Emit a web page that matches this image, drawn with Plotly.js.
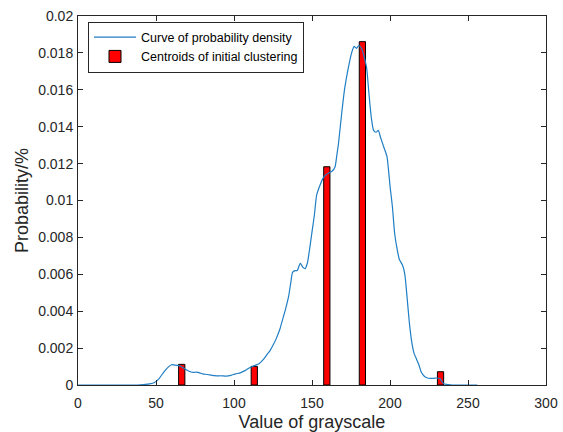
<!DOCTYPE html>
<html>
<head>
<meta charset="utf-8">
<script src="https://cdn.plot.ly/plotly-3.0.1.min.js"></script>
<style>html,body{margin:0;padding:0;background:#fff;}#chart{width:563px;height:432px;}</style>
</head>
<body>
<div id="chart"></div>
<script>
// Curve of probability density
var curveX = [0,10,20,30,38,42,46,49,52,55,58,60,62,64,66,68,70,72,74,76,78,80,83,86,89,92,95,98,101,104,107,110,113,116,119,121,123,125,127,129.5,131,133,135,136.5,137.5,139,140.5,142.5,144,145.5,147,148.7,150,151.5,153,155,157,159,161,163,164.7,166,167,169,171,173.3,175.4,177,178.5,180,182,184,185,186.5,188,189.5,191,192.5,194,196,198,199,200,201.5,203,204.5,206,208,209.5,211,212.5,214,215.5,217,218.5,220,222,224,226,228,230,232,234,236,240,250,256];
var curveY = [0,0,0,0,0,0.00002,0.00006,0.00014,0.00035,0.0007,0.00098,0.0011,0.00108,0.00106,0.001,0.0009,0.0008,0.00072,0.00068,0.0007,0.00066,0.0006,0.00057,0.00052,0.0005,0.0005,0.00048,0.00052,0.0006,0.00066,0.00078,0.00094,0.00105,0.00115,0.0014,0.00163,0.00185,0.00215,0.0025,0.00305,0.0035,0.0041,0.0048,0.0056,0.0061,0.0062,0.0062,0.0066,0.0064,0.0063,0.0066,0.0075,0.0083,0.0092,0.0103,0.0108,0.0112,0.0114,0.0115,0.0116,0.0118,0.0125,0.0131,0.0147,0.0161,0.0172,0.0180,0.01835,0.01825,0.0184,0.0182,0.0176,0.0172,0.0158,0.0145,0.0138,0.0137,0.0138,0.0134,0.0129,0.0124,0.0117,0.0108,0.0097,0.0082,0.0074,0.0068,0.0065,0.0060,0.0047,0.0033,0.0023,0.0017,0.0014,0.0011,0.0007,0.00047,0.00038,0.00036,0.00036,0.00038,0.00035,0.0001,0.00003,0,0,0];
// Centroids of initial clustering
var centroidX = [66.5, 113, 159.5, 182.3, 232.4];
var centroidY = [0.00112, 0.00101, 0.01183, 0.01861, 0.00072];
var xTicks = [0,50,100,150,200,250,300];
var yTicks = [0,0.002,0.004,0.006,0.008,0.01,0.012,0.014,0.016,0.018,0.02];
var yTickText = ['0','0.002','0.004','0.006','0.008','0.01','0.012','0.014','0.016','0.018','0.02'];

var FONT = 'Liberation Sans, Arial, sans-serif';
var traces = [
  {type:'scatter', mode:'lines', x:curveX, y:curveY, name:'Curve of probability density',
   line:{color:'#1f7ec4', width:1.2, shape:'spline', smoothing:0.6}},
  {type:'bar', x:centroidX, y:centroidY, width:4, name:'Centroids of initial clustering',
   marker:{color:'#FF0000', line:{color:'#000000', width:1}}}
];
var axisCommon = {showgrid:false, zeroline:false, showline:true, linecolor:'#262626', linewidth:1,
  mirror:'ticks', ticks:'inside', ticklen:5, tickcolor:'#262626',
  tickfont:{family:FONT, size:14, color:'#262626'}};
var layout = {
  width:563, height:432,
  margin:{l:78, r:17, t:16, b:47},
  paper_bgcolor:'#fff', plot_bgcolor:'#fff',
  showlegend:true,
  legend:{x:0.0214, y:0.985, xanchor:'left', yanchor:'top', bgcolor:'#fff',
    bordercolor:'#262626', borderwidth:1, itemwidth:42, tracegroupgap:0,
    font:{family:FONT, size:12.5, color:'#000'}},
  xaxis:Object.assign({}, axisCommon, {range:[0,300], tickvals:xTicks, ticktext:xTicks.map(String),
    ticklabelstandoff:5,
    title:{text:'Value of grayscale', standoff:5, font:{family:FONT, size:18, color:'#262626'}}}),
  yaxis:Object.assign({}, axisCommon, {range:[0,0.02], tickvals:yTicks, ticktext:yTickText,
    ticklabelstandoff:1,
    title:{text:'Probability/%', standoff:4, font:{family:FONT, size:18, color:'#262626'}}}),
  bargap:0
};
Plotly.newPlot('chart', traces, layout, {displayModeBar:false, staticPlot:true});
</script>
</body>
</html>
